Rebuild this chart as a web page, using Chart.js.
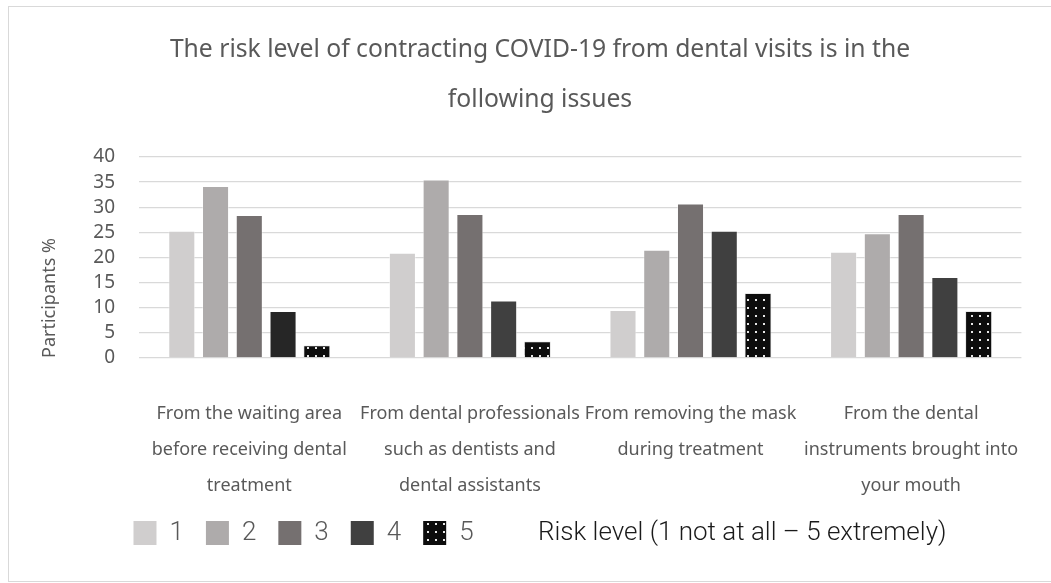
<!DOCTYPE html>
<html>
<head>
<meta charset="utf-8">
<script src="https://cdn.jsdelivr.net/npm/chart.js@4/dist/chart.umd.min.js"></script>
<style>
  html, body { margin: 0; padding: 0; background: #fff; }
  #wrap { position: relative; width: 1051px; height: 583px; overflow: hidden; }
  #frame { position: absolute; left: 8px; top: 6px; width: 1060px; height: 576px; border: 1px solid #D9D9D9; box-sizing: border-box; }
  #box { position: absolute; left: 0; top: 0; width: 1051px; height: 583px; }
</style>
</head>
<body>
<div id="wrap">
  <div id="frame"></div>
  <div id="box"><canvas id="c"></canvas></div>
</div>
<script>
const titleLines = ["The risk level of contracting COVID-19 from dental visits is in the", "following issues"];
const categories = [
  ["From the waiting area", "before receiving dental", "treatment"],
  ["From dental professionals", "such as dentists and", "dental assistants"],
  ["From removing the mask", "during treatment"],
  ["From the dental", "instruments brought into", "your mouth"]
];
const seriesNames = ["1", "2", "3", "4", "5"];
const level1 = [25.3, 20.9, 9.5, 21.1];
const level2 = [34.2, 35.5, 21.5, 24.8];
const level3 = [28.4, 28.6, 30.7, 28.6];
const level4 = [9.3, 11.4, 25.3, 16.1];
const level5 = [2.5, 3.3, 12.9, 9.3];
const yTicks = [0, 5, 10, 15, 20, 25, 30, 35, 40];
const legendNote = "Risk level (1 not at all \u2013 5 extremely)";

function dotPattern() {
  const p = document.createElement('canvas');
  p.width = 8; p.height = 8;
  const g = p.getContext('2d');
  g.fillStyle = '#0D0D0D';
  g.fillRect(0, 0, 8, 8);
  g.fillStyle = '#E8E8E8';
  g.fillRect(3, 3, 2, 2);
  return document.getElementById('c').getContext('2d').createPattern(p, 'repeat');
}
const pat = dotPattern();

const colors = [
  '#D0CECE',
  '#AEABAB',
  '#757070',
  ['#262626', '#404040', '#404040', '#404040'],
  pat
];
const legendColors = ['#D0CECE', '#AEABAB', '#757070', '#404040', pat];
const values = [level1, level2, level3, level4, level5];

const datasets = seriesNames.map((n, i) => ({
  label: n,
  data: values[i],
  backgroundColor: colors[i],
  borderColor: i === 4 ? '#D9D9D9' : 'rgba(255,255,255,0.6)',
  borderWidth: 0.8,
  categoryPercentage: 0.765,
  barPercentage: 0.79
}));

new Chart(document.getElementById('c'), {
  type: 'bar',
  data: { labels: categories, datasets },
  options: {
    responsive: true,
    maintainAspectRatio: false,
    animation: false,
    layout: { padding: { left: 52, right: 23, top: 0, bottom: 27 } },
    plugins: {
      title: {
        display: true,
        text: titleLines,
        color: '#595959',
        font: { family: 'Noto Sans', size: 24.7, weight: 'normal', lineHeight: 2.024 },
        padding: { top: 25, bottom: 32 }
      },
      legend: {
        position: 'bottom',
        labels: {
          boxWidth: 23,
          boxHeight: 24,
          padding: 22,
          color: '#595959',
          font: { family: 'Roboto', size: 26, weight: '300' },
          generateLabels: (chart) => {
            const items = seriesNames.map((n, i) => ({
              text: n,
              fillStyle: legendColors[i],
              strokeStyle: 'rgba(0,0,0,0)',
              lineWidth: 0,
              fontColor: '#595959',
              hidden: false,
              datasetIndex: i
            }));
            items.push({
              text: ' ' + legendNote,
              fillStyle: 'rgba(0,0,0,0)',
              strokeStyle: 'rgba(0,0,0,0)',
              lineWidth: 0,
              fontColor: '#1a1a1a',
              hidden: false
            });
            return items;
          }
        }
      },
      tooltip: { enabled: false }
    },
    scales: {
      x: {
        grid: { display: false },
        border: { display: false },
        ticks: {
          color: '#595959',
          font: { family: 'Noto Sans', size: 18, lineHeight: 2.0 },
          padding: 30,
          maxRotation: 0,
          autoSkip: false
        },
        afterFit: (s) => { s.height = 140; }
      },
      y: {
        min: 0, max: 40,
        afterBuildTicks: (s) => { s.ticks = yTicks.map(v => ({ value: v })); },
        grid: { color: '#D9D9D9', lineWidth: 1.3, drawTicks: false },
        border: { display: false },
        ticks: {
          color: '#595959',
          font: { family: 'Noto Sans', size: 19 },
          padding: 24,
          autoSkip: false
        },
        title: {
          display: true,
          text: 'Participants %',
          align: 'start',
          color: '#595959',
          font: { family: 'Noto Sans', size: 18, weight: 'normal' },
          padding: { top: -13, bottom: 0 }
        },
        afterFit: (s) => { s.width = 87; }
      }
    }
  }
});
</script>
</body>
</html>
